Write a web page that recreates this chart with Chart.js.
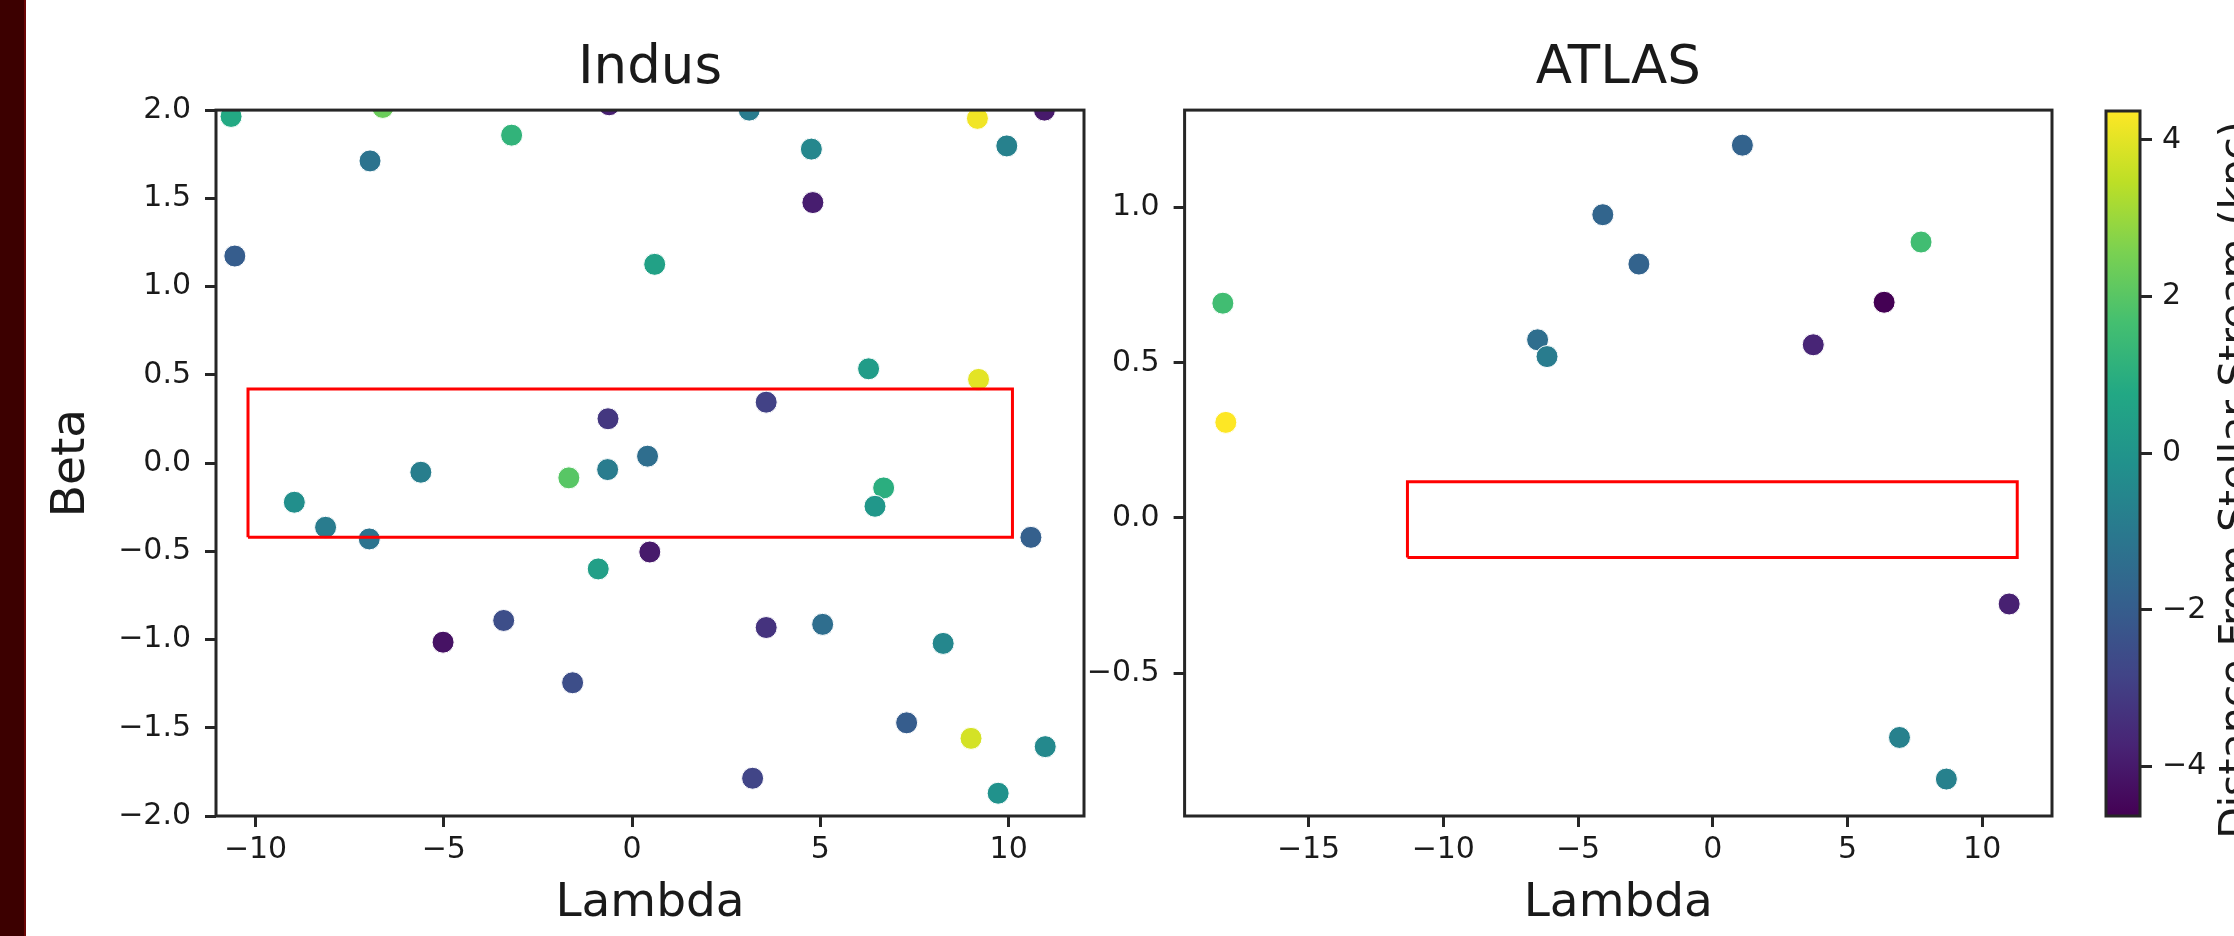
<!DOCTYPE html>
<html>
<head>
<meta charset="utf-8">
<script src="https://cdn.jsdelivr.net/npm/chart.js@4.4.1/dist/chart.umd.min.js"></script>
<style>
  body { margin: 0; background: #fff; }
  #page { position: relative; width: 2234px; height: 936px; overflow: hidden; background: #fff; }
  #strip { position: absolute; left: 0; top: 0; width: 24px; height: 936px; background: #3c0000; border-right: 2px solid #6a0606; }
  canvas { position: absolute; top: 0; }
</style>
</head>
<body>
<div id="page">
  <div id="strip"></div>
  <canvas id="indus" width="1100" height="936" style="left:0px"></canvas>
  <canvas id="atlas" width="1004" height="936" style="left:1086px"></canvas>
  <canvas id="cbar" width="144" height="936" style="left:2090px"></canvas>
</div>
<script>
"use strict";

// Indus stream - stars (lambda, beta) and distance from the stream (kpc)
let indusLambda = [-10.65, -6.62, -3.2, -0.61, 3.11, 4.76, 9.17, 10.95, 9.95, -6.96,
    4.8, -10.55, 0.6, 6.28, 9.2, 3.56, -0.64, 0.41, -5.61, -1.68,
    -0.65, 6.68, 6.45, -8.97, -8.14, -6.98, 10.59, 0.47, -0.9, -3.41,
    -5.02, 3.56, 5.06, 8.26, -1.58, 7.29, 9.0, 10.97, 3.2, 9.72];
let indusBeta = [1.964, 2.015, 1.858, 2.03, 2.0, 1.779, 1.953, 2.0, 1.797, 1.712,
    1.476, 1.173, 1.126, 0.534, 0.474, 0.345, 0.251, 0.039, -0.052, -0.084,
    -0.037, -0.141, -0.245, -0.222, -0.364, -0.43, -0.421, -0.504, -0.6, -0.892,
    -1.015, -0.932, -0.914, -1.022, -1.245, -1.472, -1.56, -1.607, -1.786, -1.871];
let indusDist = [0.8, 2.3, 1.2, -3.8, -0.9, -0.5, 4.2, -4.0, -0.7, -1.2,
    -3.9, -2.0, 0.5, 0.3, 4.0, -2.9, -3.2, -1.4, -0.8, 2.0,
    -0.9, 1.0, 0.1, -0.2, -0.9, -1.2, -1.9, -4.0, 0.4, -2.5,
    -4.2, -3.3, -1.4, -0.5, -2.5, -2.0, 3.8, -0.4, -2.8, -0.1];

// ATLAS stream
let atlasLambda = [1.1, -4.08, -2.74, 7.73, -18.18, 6.36, -6.5, -6.15, 3.73, -18.07, 11.0, 6.93, 8.67];
let atlasBeta = [1.201, 0.977, 0.818, 0.889, 0.692, 0.695, 0.574, 0.52, 0.558, 0.308, -0.277, -0.707, -0.841];
let atlasDist = [-1.8, -1.7, -1.8, 1.6, 1.6, -4.63, -1.4, -0.9, -3.7, 4.37, -3.8, -0.7, -0.7];

// red boxes (lambda range, beta range)
let indusBoxLambda = [-10.2, 10.1];
let indusBoxBeta = [-0.42, 0.42];
let atlasBoxLambda = [-11.33, 11.3];
let atlasBoxBeta = [-0.127, 0.117];

// axis ranges and ticks
let indusXRange = [-11.05, 12.0];
let indusYRange = [-2.0, 2.0];
let indusXTicks = [-10, -5, 0, 5, 10];
let indusYTicks = [-2.0, -1.5, -1.0, -0.5, 0.0, 0.5, 1.0, 1.5, 2.0];
let atlasXRange = [-19.6, 12.59];
let atlasYRange = [-0.96, 1.314];
let atlasXTicks = [-15, -10, -5, 0, 5, 10];
let atlasYTicks = [-0.5, 0.0, 0.5, 1.0];
let distRange = [-4.63, 4.37];
let distTicks = [-4, -2, 0, 2, 4];

const FONT = "'DejaVu Sans', sans-serif";
const INK = "#1a1a1a";
const SPINE = "#262626";

// viridis
const viridisStops = ["#440154", "#482475", "#414487", "#355f8d", "#2a788e", "#21918c",
    "#22a884", "#44bf70", "#7ad151", "#bddf26", "#fde725"];

function hexRgb(h) {
    return [parseInt(h.slice(1, 3), 16), parseInt(h.slice(3, 5), 16), parseInt(h.slice(5, 7), 16)];
}
function viridis(v) {
    let t = (v - distRange[0]) / (distRange[1] - distRange[0]);
    t = Math.max(0, Math.min(1, t));
    let p = t * (viridisStops.length - 1);
    let i = Math.min(Math.floor(p), viridisStops.length - 2);
    let f = p - i;
    let a = hexRgb(viridisStops[i]), b = hexRgb(viridisStops[i + 1]);
    let c = a.map((x, k) => Math.round(x + (b[k] - x) * f));
    return `rgb(${c[0]},${c[1]},${c[2]})`;
}

function minus(s) { return String(s).replace("-", "\u2212"); }

function boxPath(lam, bet) {
    return [
        {x: lam[0], y: bet[0]}, {x: lam[1], y: bet[0]}, {x: lam[1], y: bet[1]},
        {x: lam[0], y: bet[1]}, {x: lam[0], y: bet[0]}
    ];
}

// square frame around the plot area (matplotlib spines)
const frame = {
    id: "frame",
    afterDatasetsDraw(chart) {
        const a = chart.chartArea, ctx = chart.ctx;
        ctx.save();
        ctx.strokeStyle = SPINE;
        ctx.lineWidth = 3;
        ctx.strokeRect(a.left, a.top, a.right - a.left, a.bottom - a.top);
        ctx.restore();
    }
};

function tickStyle() {
    return {
        drawOnChartArea: false, drawTicks: true, tickLength: 11,
        tickWidth: 3, tickColor: SPINE
    };
}

function scatterChart(id, o) {
    let pts = o.lam.map((x, i) => ({x: x, y: o.bet[i]}));
    new Chart(document.getElementById(id), {
        type: "scatter",
        data: {
            datasets: [
                {
                    data: boxPath(o.boxLam, o.boxBet),
                    showLine: true, borderColor: "#ff0000", borderWidth: 3,
                    pointRadius: 0, fill: false, clip: 0
                },
                {
                    data: pts,
                    pointRadius: 11, pointBorderWidth: 1, pointBorderColor: "#ffffff",
                    pointBackgroundColor: o.dist.map(viridis), clip: 0
                }
            ]
        },
        options: {
            responsive: false, animation: false, devicePixelRatio: 1,
            layout: {padding: {left: 0, right: o.padRight, top: 0, bottom: 0}},
            plugins: {
                legend: {display: false}, tooltip: {enabled: false},
                title: {
                    display: true, text: o.title, fullSize: false, color: INK,
                    font: {family: FONT, size: 53, weight: "normal"},
                    padding: {top: 37, bottom: 9.5}
                }
            },
            scales: {
                x: {
                    type: "linear", min: o.xr[0], max: o.xr[1],
                    border: {display: false},
                    grid: tickStyle(),
                    afterBuildTicks: s => { s.ticks = o.xt.map(v => ({value: v})); },
                    afterFit: s => { s.height = 120; },
                    ticks: {
                        color: INK, padding: 5, font: {family: FONT, size: 30},
                        maxRotation: 0, callback: v => minus(v)
                    },
                    title: {
                        display: true, text: "Lambda", color: INK,
                        font: {family: FONT, size: 47}, padding: {top: 0, bottom: 4}
                    }
                },
                y: {
                    type: "linear", min: o.yr[0], max: o.yr[1],
                    border: {display: false},
                    grid: tickStyle(),
                    afterBuildTicks: s => { s.ticks = o.yt.map(v => ({value: v})); },
                    afterFit: s => { s.width = o.yWidth; },
                    ticks: {
                        color: INK, padding: 14, font: {family: FONT, size: 30},
                        callback: v => minus(v.toFixed(1))
                    },
                    title: {
                        display: !!o.yTitle, text: o.yTitle || "", color: INK,
                        font: {family: FONT, size: 47}, padding: {top: 44, bottom: 0}
                    }
                }
            }
        },
        plugins: [frame]
    });
}

scatterChart("indus", {
    lam: indusLambda, bet: indusBeta, dist: indusDist,
    boxLam: indusBoxLambda, boxBet: indusBoxBeta,
    xr: indusXRange, yr: indusYRange, xt: indusXTicks, yt: indusYTicks,
    title: "Indus", yTitle: "Beta", yWidth: 216, padRight: 16
});

scatterChart("atlas", {
    lam: atlasLambda, bet: atlasBeta, dist: atlasDist,
    boxLam: atlasBoxLambda, boxBet: atlasBoxBeta,
    xr: atlasXRange, yr: atlasYRange, xt: atlasXTicks, yt: atlasYTicks,
    title: "ATLAS", yTitle: null, yWidth: 98.6, padRight: 38
});

// colorbar: one floating bar spanning the distance range, painted with viridis
const cbLabel = {
    id: "cbLabel",
    afterDraw(chart) {
        const ctx = chart.ctx;
        ctx.save();
        ctx.translate(158, 480);
        ctx.rotate(-Math.PI / 2);
        ctx.fillStyle = INK;
        ctx.font = "41px " + FONT;
        ctx.textAlign = "center";
        ctx.textBaseline = "alphabetic";
        ctx.fillText("Distance From Stellar Stream (kpc)", 0, 0);
        ctx.restore();
    }
};

new Chart(document.getElementById("cbar"), {
    type: "bar",
    data: {
        labels: ["dist"],
        datasets: [{
            data: [distRange],
            barPercentage: 1, categoryPercentage: 1, borderWidth: 0,
            backgroundColor: c => {
                const a = c.chart.chartArea;
                if (!a) return "#21918c";
                const g = c.chart.ctx.createLinearGradient(0, a.bottom, 0, a.top);
                viridisStops.forEach((col, i) => g.addColorStop(i / (viridisStops.length - 1), col));
                return g;
            }
        }]
    },
    options: {
        responsive: false, animation: false, devicePixelRatio: 1,
        layout: {padding: {left: 16, right: 0, top: 111, bottom: 120}},
        plugins: {legend: {display: false}, tooltip: {enabled: false}},
        scales: {
            x: {display: false},
            y: {
                position: "right", min: distRange[0], max: distRange[1],
                border: {display: false},
                grid: {drawOnChartArea: false, drawTicks: true, tickLength: 12, tickWidth: 3, tickColor: SPINE},
                afterBuildTicks: s => { s.ticks = distTicks.map(v => ({value: v})); },
                afterFit: s => { s.width = 94; },
                ticks: {color: INK, padding: 10, font: {family: FONT, size: 30}, callback: v => minus(v)}
            }
        }
    },
    plugins: [frame, cbLabel]
});
</script>
</body>
</html>
